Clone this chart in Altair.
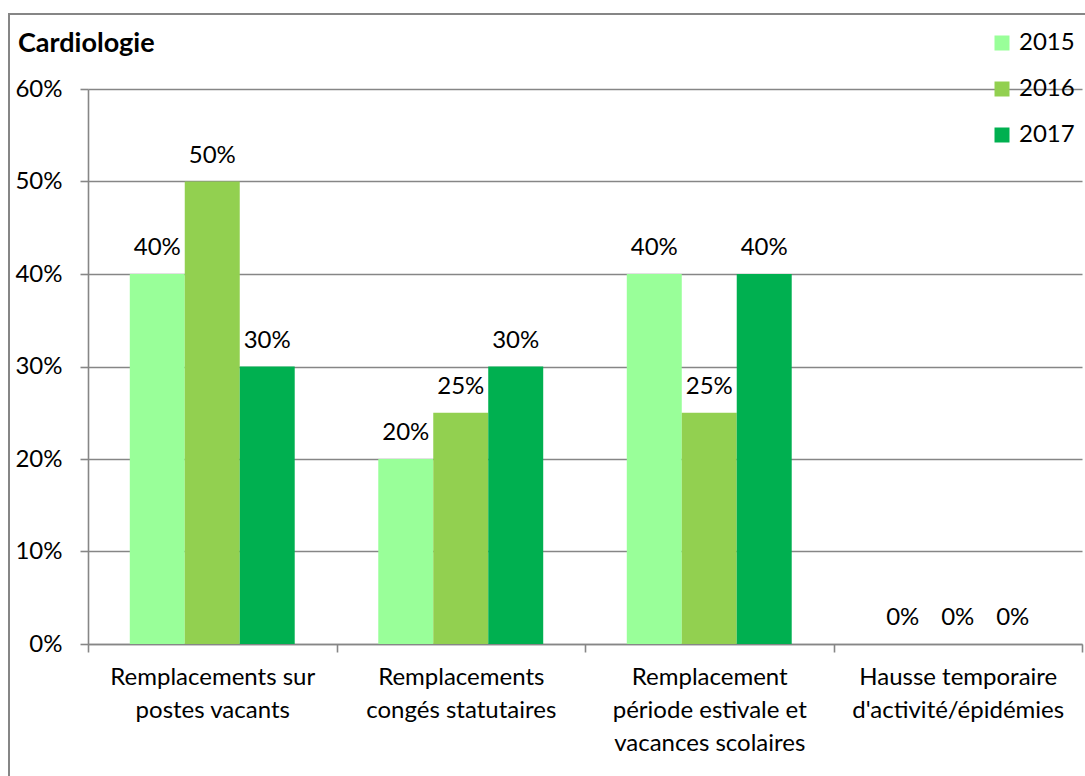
import altair as alt
import pandas as pd

# Categories (label lines separated by "\n") and shares per year
categories = [
    "Remplacements sur\npostes vacants",
    "Remplacements\ncongés statutaires",
    "Remplacement\npériode estivale et\nvacances scolaires",
    "Hausse temporaire\nd'activité/épidémies",
]
years = ["2015", "2016", "2017"]
values_2015 = [0.40, 0.20, 0.40, 0.0]
values_2016 = [0.50, 0.25, 0.25, 0.0]
values_2017 = [0.30, 0.30, 0.40, 0.0]
colors = ["#99FF99", "#92D050", "#00B050"]
y_ticks = [0, 0.1, 0.2, 0.3, 0.4, 0.5, 0.6]
chart_title = "Cardiologie"

rows = []
for year, vals in zip(years, [values_2015, values_2016, values_2017]):
    for cat, v in zip(categories, vals):
        rows.append({"categorie": cat, "annee": year, "part": v})
df = pd.DataFrame(rows)

FONT = "Lato"
GRAY = "#868686"
FS = 24

x_enc = alt.X(
    "categorie:N",
    sort=categories,
    title=None,
    scale=alt.Scale(paddingInner=0, paddingOuter=0),
    axis=alt.Axis(
        labelAngle=0,
        labelExpr="split(datum.label, '\\n')",
        labelLineHeight=33,
        labelFontSize=FS,
        labelLimit=0,
        labelPadding=13,
        tickSize=8,
        tickBand="extent",
        labelBaseline="top",
        grid=False,
    ),
)
xoff_enc = alt.XOffset(
    "annee:N", sort=years, scale=alt.Scale(paddingInner=0, paddingOuter=0.76)
)
y_enc = alt.Y(
    "part:Q",
    title=None,
    scale=alt.Scale(domain=[0, 0.6], nice=False),
    axis=alt.Axis(
        values=y_ticks,
        format=".0%",
        labelFontSize=FS,
        labelPadding=18,
        tickSize=8,
        grid=True,
        gridColor=GRAY,
        gridWidth=1.6,
    ),
)

bars = alt.Chart(df).mark_bar().encode(
    x=x_enc,
    xOffset=xoff_enc,
    y=y_enc,
    color=alt.Color(
        "annee:N",
        sort=years,
        scale=alt.Scale(domain=years, range=colors),
        legend=alt.Legend(
            title=None,
            orient="none",
            legendX=902,
            legendY=-58,
            symbolType="square",
            symbolSize=225,
            symbolStrokeWidth=0,
            labelFontSize=FS,
            labelOffset=5,
            rowPadding=22,
            padding=0,
        ),
    ),
)

labels = alt.Chart(df).mark_text(
    font=FONT, fontSize=FS, baseline="alphabetic", dy=-19, color="black"
).encode(
    x=alt.X("categorie:N", sort=categories),
    xOffset=alt.XOffset("annee:N", sort=years),
    y="part:Q",
    text=alt.Text("part:Q", format=".0%"),
)

one_row = pd.DataFrame({"t": [chart_title]})

# Outer frame around the whole figure
frame = alt.Chart(one_row).mark_rect(
    fill=None, stroke=GRAY, strokeWidth=2
).encode(
    x=alt.value(-79), x2=alt.value(1010), y=alt.value(-75), y2=alt.value(700)
)

# Bold heading in the top-left corner of the frame
heading = alt.Chart(one_row).mark_text(
    font=FONT, fontSize=27, fontWeight="bold", align="left",
    baseline="alphabetic", color="black",
).encode(x=alt.value(-70), y=alt.value(-37), text="t:N")

chart = (
    alt.layer(bars, labels, frame, heading)
    .properties(
        width=994,
        height=555,
        autosize=alt.AutoSizeParams(type="none"),
        padding={"left": 88, "top": 89, "right": 3, "bottom": 132},
    )
    .configure(font=FONT, background="white")
    .configure_view(stroke=None)
    .configure_axis(
        labelFont=FONT,
        labelColor="black",
        domainColor=GRAY,
        domainWidth=1.6,
        tickColor=GRAY,
        tickWidth=1.6,
    )
    .configure_legend(labelFont=FONT, labelColor="black")
)

chart.save("out.html", embed_options={"renderer": "svg", "actions": False})
